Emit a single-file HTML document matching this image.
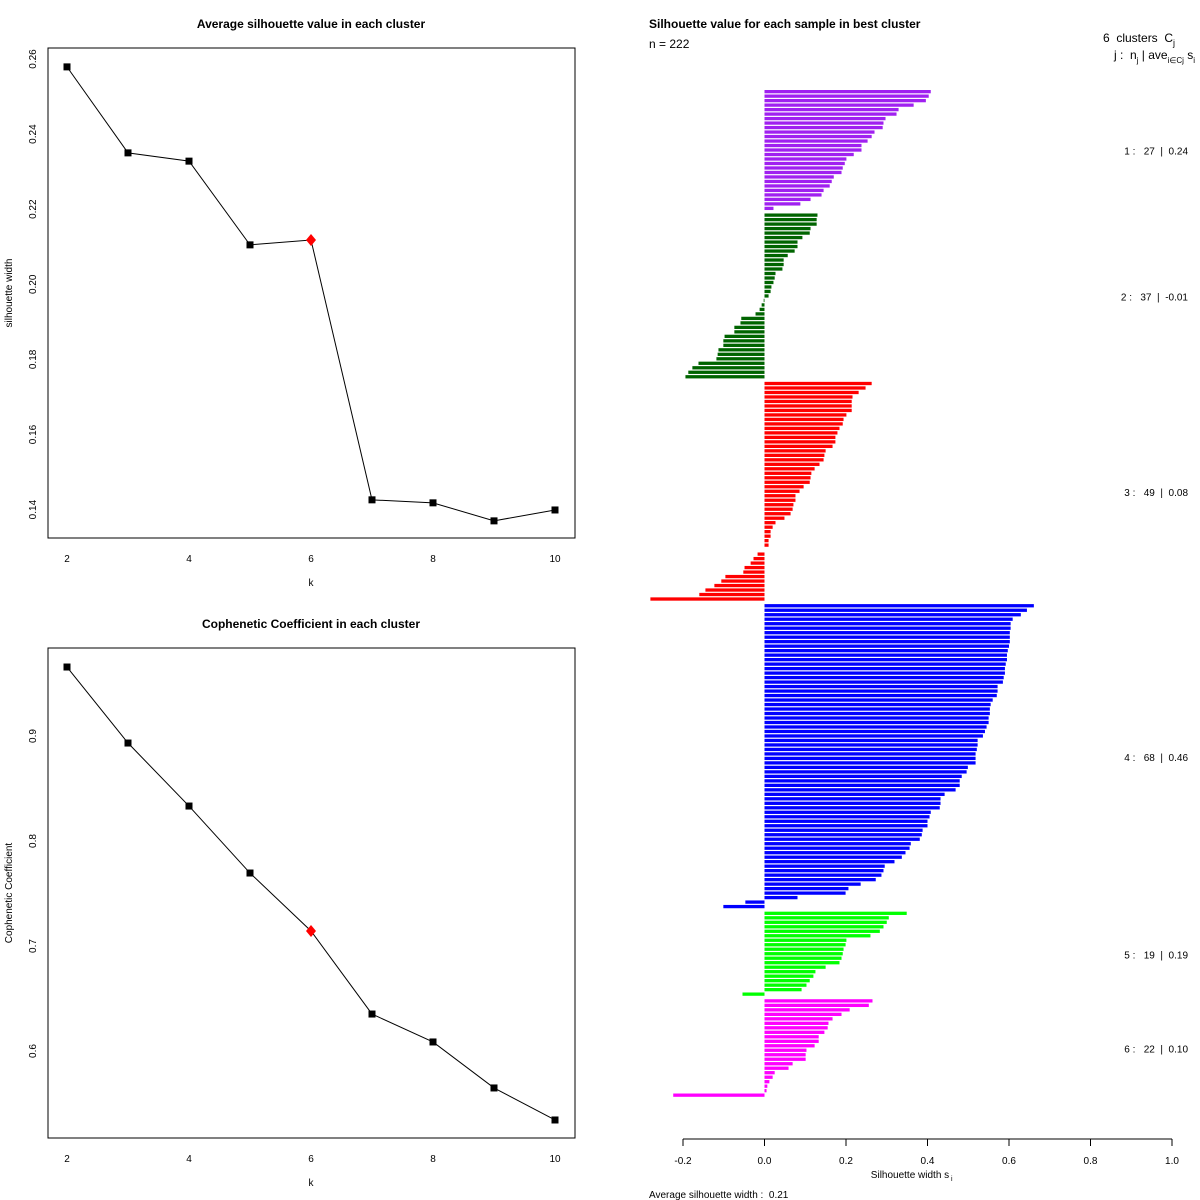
<!DOCTYPE html>
<html><head><meta charset="utf-8"><style>
body{margin:0;background:#fff}
svg{display:block;font-family:"Liberation Sans",Arial,sans-serif}
text{white-space:pre}
</style></head><body>
<svg id="chart" width="1200" height="1200" viewBox="0 0 1200 1200" xmlns="http://www.w3.org/2000/svg">
<rect width="1200" height="1200" fill="#fff"/>
<g id="p1"></g>
<g id="p2"></g>
<g id="p3">
<text x="1103" y="42" font-size="12">6  clusters  C<tspan font-size="9" dy="4">j</tspan></text>
<text x="1114" y="59" font-size="12">j :  n<tspan font-size="8" dy="4">j</tspan><tspan dy="-4"> | ave</tspan><tspan font-size="8" dy="4">i∈Cj</tspan><tspan dy="-4"> s</tspan><tspan font-size="8" dy="4">i</tspan></text>
</g>
</svg>
<script>
const kValues=[2,3,4,5,6,7,8,9,10];
const avgSil=[0.2579,0.2350,0.2328,0.2105,0.2118,0.1426,0.1418,0.1370,0.1399];
const silTicks=[0.14,0.16,0.18,0.20,0.22,0.24,0.26];
const coph=[0.9657,0.8933,0.8333,0.7695,0.7143,0.6352,0.6086,0.5648,0.5343];
const cophTicks=[0.6,0.7,0.8,0.9];
const kTicks=[2,4,6,8,10];
const bestK=6;
const clusterColors=["#A020F0","#006400","#FF0000","#0000FF","#00FF00","#FF00FF"];
const clusterAvg=["0.24","-0.01","0.08","0.46","0.19","0.10"];
const c1=[.408,.403,.396,.366,.329,.324,.297,.292,.290,.270,.263,.253,.238,.238,.219,.201,.197,.192,.189,.170,.165,.160,.145,.140,.113,.088,.022];
const c2=[.130,.128,.128,.113,.111,.093,.081,.081,.074,.057,.047,.047,.044,.027,.025,.022,.017,.015,.010,-.002,-.007,-.012,-.022,-.057,-.059,-.074,-.074,-.098,-.101,-.101,-.113,-.115,-.118,-.162,-.177,-.187,-.194];
const c3=[.263,.248,.231,.216,.214,.214,.214,.201,.194,.192,.184,.179,.174,.174,.167,.150,.147,.145,.135,.123,.115,.113,.111,.096,.086,.076,.076,.071,.069,.064,.049,.027,.020,.015,.015,.010,.010,0,-.017,-.027,-.034,-.049,-.052,-.096,-.106,-.123,-.145,-.160,-.280];
const c4=[.661,.644,.629,.609,.604,.604,.602,.602,.602,.600,.597,.595,.595,.592,.590,.590,.587,.585,.572,.572,.570,.560,.555,.553,.553,.550,.550,.545,.541,.536,.523,.523,.521,.518,.518,.518,.499,.496,.484,.479,.479,.469,.442,.432,.432,.430,.408,.405,.400,.400,.388,.386,.381,.359,.356,.346,.337,.319,.295,.292,.287,.273,.236,.206,.199,.081,-.047,-.101];
const c5=[.349,.305,.300,.292,.283,.260,.201,.199,.194,.192,.189,.184,.150,.125,.120,.111,.103,.091,-.054];
const c6=[.265,.256,.209,.189,.167,.157,.155,.147,.133,.133,.123,.103,.101,.101,.069,.059,.025,.020,.012,.007,.005,-.224];
const clusters=[c1,c2,c3,c4,c5,c6];
const silXTicks=[-0.2,0,0.2,0.4,0.6,0.8,1.0];
const avgWidth="0.21";

const NS="http://www.w3.org/2000/svg";
function mk(parent,tag,attrs,text){const e=document.createElementNS(NS,tag);for(const k in attrs)e.setAttribute(k,attrs[k]);if(text!==undefined)e.textContent=text;parent.appendChild(e);return e;}

function linePanel(g,vals,ticks,yOf,top,bottom,title,ylab,fmt){
  const xOf=k=>67+(k-2)*61;
  let e=mk(g,'rect',{x:48,y:top,width:527,height:bottom-top,fill:'none',stroke:'#000','stroke-width':1});
  
  e=mk(g,'text',{x:311,y:top-20,'text-anchor':'middle','font-size':12,'font-weight':'bold'},title);
  
  kTicks.forEach(k=>{const t=mk(g,'text',{x:xOf(k),y:bottom+24,'text-anchor':'middle','font-size':10},String(k));
    });
  e=mk(g,'text',{x:311,y:bottom+48,'text-anchor':'middle','font-size':10},'k');
  
  ticks.forEach(v=>{const y=yOf(v);const t=mk(g,'text',{x:0,y:0,'text-anchor':'middle','font-size':10,transform:`translate(36,${y}) rotate(-90)`},fmt(v));
    });
  e=mk(g,'text',{x:0,y:0,'text-anchor':'middle','font-size':10,transform:`translate(12,${(top+bottom)/2}) rotate(-90)`},ylab);
  
  const pts=vals.map((v,i)=>xOf(kValues[i])+','+yOf(v)).join(' ');
  e=mk(g,'polyline',{points:pts,fill:'none',stroke:'#000','stroke-width':1});
  
  vals.forEach((v,i)=>{const x=xOf(kValues[i]),y=yOf(v);
    if(kValues[i]===bestK){const d=mk(g,'polygon',{points:`${x},${y-6} ${x+5},${y} ${x},${y+6} ${x-5},${y}`,fill:'#f00'});
      }
    else{const s=mk(g,'rect',{x:x-3.5,y:y-3.5,width:7,height:7,fill:'#000'});
      }});
}
linePanel(document.getElementById('p1'),avgSil,silTicks,v=>59+(0.26-v)/0.02*75.1,48,538,'Average silhouette value in each cluster','silhouette width',v=>v.toFixed(2));
linePanel(document.getElementById('p2'),coph,cophTicks,v=>736+(0.9-v)/0.1*105,648,1138,'Cophenetic Coefficient in each cluster','Cophenetic Coefficient',v=>v.toFixed(1));

const g3=document.getElementById('p3');
const sx=v=>764.5+v*407.5;
const pitch=4.49,y0=90;
let e=mk(g3,'text',{x:649,y:28,'font-size':12,'font-weight':'bold'},'Silhouette value for each sample in best cluster');

e=mk(g3,'text',{x:649,y:48,'font-size':12},'n = 222');

let idx=0;
clusters.forEach((c,ci)=>{
  const startY=y0+(idx+0.5*ci)*pitch;
  c.forEach((v,j)=>{
    const y=y0+(idx+0.5*ci)*pitch;
    const x1=Math.min(sx(0),sx(v)),w=Math.abs(sx(v)-sx(0));
    const r=mk(g3,'rect',{x:x1,y:y,width:Math.max(w,0.01),height:3.3,fill:clusterColors[ci]});
    
    
    idx++;
  });
  const midY=startY+c.length*pitch/2;
  const t=mk(g3,'text',{x:1188,y:midY+4,'text-anchor':'end','font-size':10},`${ci+1} :   ${c.length}  |  ${clusterAvg[ci]}`);
  
  
});
e=mk(g3,'line',{x1:sx(-0.2),x2:sx(1.0),y1:1139,y2:1139,stroke:'#000'});

silXTicks.forEach(v=>{
  const tk=mk(g3,'line',{x1:sx(v),x2:sx(v),y1:1139,y2:1146,stroke:'#000'});
  
  const t=mk(g3,'text',{x:sx(v),y:1164,'text-anchor':'middle','font-size':10},v.toFixed(1));
  
});
e=mk(g3,'text',{x:910,y:1178,'text-anchor':'middle','font-size':10},'Silhouette width s');

mk(g3,'text',{x:951,y:1181,'font-size':7},'i');
e=mk(g3,'text',{x:649,y:1198,'font-size':10},'Average silhouette width :  '+avgWidth);

</script>
</body></html>
